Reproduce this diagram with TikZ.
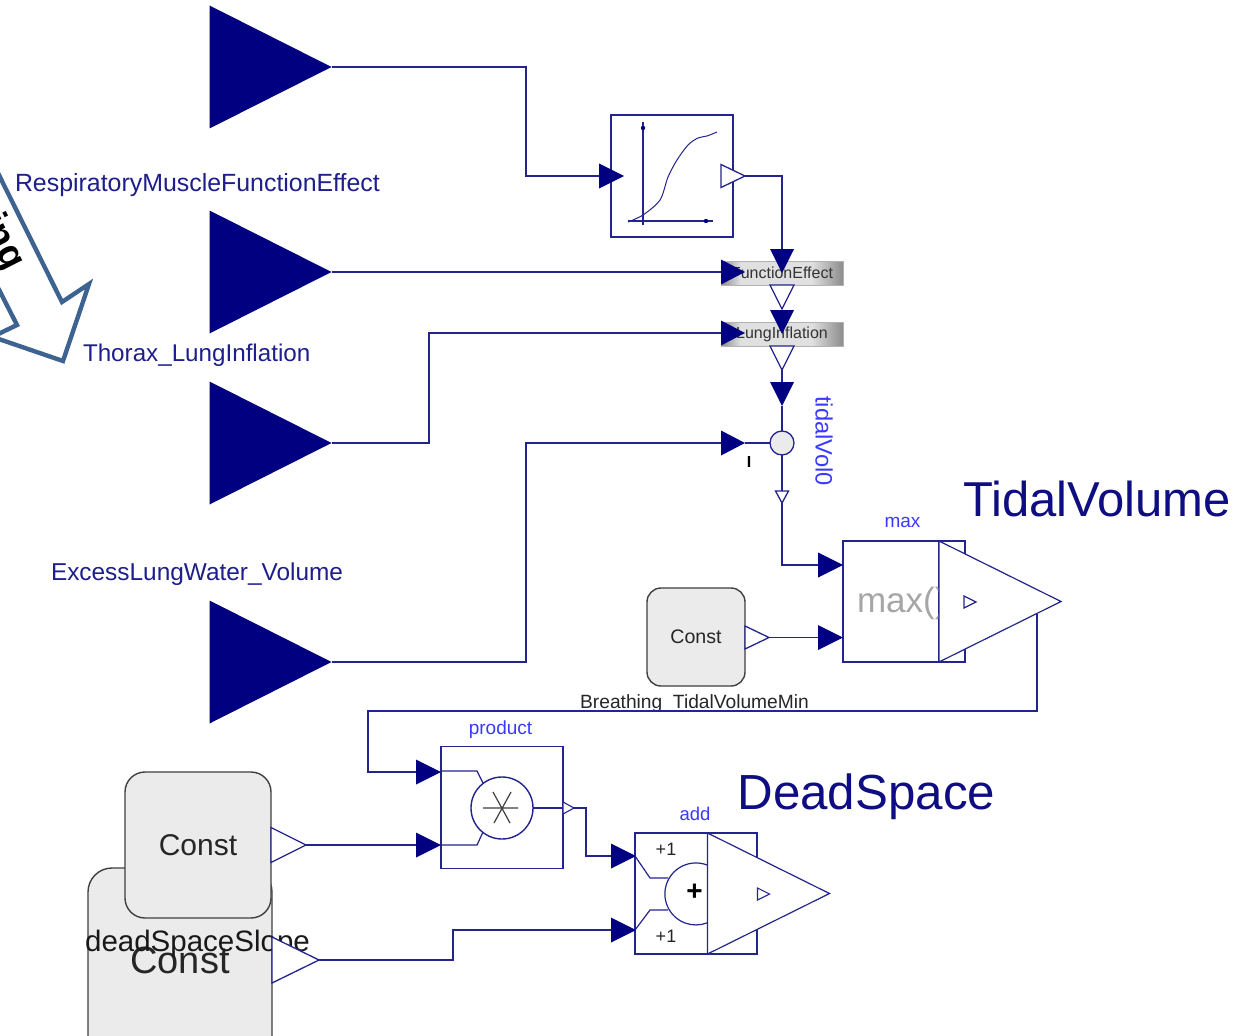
\documentclass[tikz,border=0pt]{standalone}
\usepackage{fontspec}
\setmainfont{Liberation Sans}
\usetikzlibrary{calc}
\definecolor{navy}{HTML}{000080}
\definecolor{wire}{HTML}{24248F}
\definecolor{lab}{HTML}{1E1E8C}
\definecolor{titlecol}{HTML}{0E0E82}
\definecolor{blu}{HTML}{3A3AFF}
\definecolor{boxfill}{HTML}{EBEBEB}
\definecolor{boxline}{HTML}{404040}
\definecolor{callout}{HTML}{3D6491}
\colorlet{bardark}{black!45}
\colorlet{barlight}{black!12}
\pgfdeclarehorizontalshading{barshade}{100bp}{color(0bp)=(bardark);color(25bp)=(bardark);color(33bp)=(barlight);color(62bp)=(barlight);color(75bp)=(bardark);color(100bp)=(bardark)}
\newcommand{\fs}[1]{\fontsize{#1}{#1}\selectfont}
\tikzset{
  port/.style={inner sep=0pt,outer sep=0pt,draw=none},
  portin/.style={fill=navy,draw=none},
  portout/.style={fill=white,draw=wire,line width=1.3pt,line join=miter},
  wireline/.style={draw=wire,line width=1.4pt},
  block/.style={draw=wire,line width=1.4pt,fill=white,inner sep=0pt,outer sep=0pt},
  constbox/.style={draw=boxline,line width=1.4pt,fill=boxfill,inner sep=0pt,outer sep=0pt},
  txt/.style={inner sep=0pt,outer sep=0pt},
  bar/.style={draw=black!30,line width=0.8pt,inner sep=0pt,outer sep=0pt,minimum width=122pt,minimum height=24pt,shading=barshade,font=\fs{16},text=black!80},
}
% right-pointing triangle: style, name, centre, width, height
\newcommand{\rtri}[5]{\node[port,minimum width=#4pt,minimum height=#5pt] (#2) at (#3) {};
  \path[#1] (#2.north west)--(#2.east)--(#2.south west)--cycle;}
% down-pointing triangle
\newcommand{\dtri}[5]{\node[port,minimum width=#4pt,minimum height=#5pt] (#2) at (#3) {};
  \path[#1] (#2.north west)--(#2.north east)--(#2.south)--cycle;}
\begin{document}
\begin{tikzpicture}[x=1pt,y=-1pt]
\clip (0,0) rectangle (1238,1035);
\fill[white] (0,0) rectangle (1238,1035);

% callout arrow cropped at the left edge
\node[txt,rotate=-63,font=\fs{38}\bfseries,anchor=base east] (fragment) at (6,272) {ing};
\path[draw=callout,line width=4.4pt,line join=miter,miter limit=10] (-10,157) -- (62,302) -- (89,284) -- (63,361) -- (-10,336);
\path[draw=callout,line width=4.4pt,line join=miter] (-10,272) -- (17,325) -- (-10,338);

% texts at the left
\node[txt,anchor=base west,text=lab,font=\fs{24.9}] (lbla) at (15,191) {RespiratoryMuscleFunctionEffect};
\node[txt,anchor=base west,text=lab,font=\fs{24.2}] (lblb) at (83,361) {Thorax\_LungInflation};
\node[txt,anchor=base west,text=lab,font=\fs{24.4}] (lblc) at (51,580) {ExcessLungWater\_Volume};

% large inputs
\rtri{portin}{t1}{270.5,67}{122}{123}
\rtri{portin}{t2}{270.5,272}{122}{123}
\rtri{portin}{t3}{270.5,443}{122}{123}
\rtri{portin}{t4}{270.5,662}{122}{123}

% curve block
\node[block,minimum size=122pt] (curve) at (672,176) {};
\draw[wireline,line width=1.3pt] (643,122) -- (643,225);
\draw[wireline,line width=1.3pt] (628,221) -- (713,221);
\fill[navy] (643,128) circle[radius=2.2];
\fill[navy] (706,221) circle[radius=2.2];
\draw[wire,line width=1pt] plot[smooth,tension=0.5] coordinates {(628,222) (643,215) (660,200) (668,177) (677,160) (688,145) (698,138) (707,136) (717,132)};
\rtri{portin}{cin}{611.5,176}{25}{25}
\rtri{portout}{cout}{733,176}{24}{23}

% gradient bars
\node[bar] (fe) at (782,273) {FunctionEffect};
\node[bar] (li) at (782,334) {LungInflation};
\rtri{portin}{fein}{733,272}{24}{25}
\rtri{portin}{liin}{733,333}{24}{25}
\dtri{portin}{fetop}{782,261}{24}{24}
\dtri{portout}{feout}{782,297}{24}{24}
\dtri{portin}{litop}{782,322}{24}{24}
\dtri{portout}{liout}{782,358}{24}{24}
\dtri{portin}{sumtop}{782,394}{24}{24}

% summing point
\node[draw=wire,line width=1.3pt,fill=boxfill,circle,minimum size=24pt,inner sep=0pt,outer sep=0pt] (sum) at (782,443) {};
\rtri{portin}{sumin}{733,443}{24}{25}
\node[txt,font=\fs{16}\bfseries] (minus) at (749,462) {I};
\dtri{portout}{sumout}{782,497}{13}{12}
\node[txt,rotate=-90,text=blu,font=\fs{23.7}] (tv0) at (824,441) {tidalVol0};

% max block
\node[block,minimum width=122pt,minimum height=121pt] (maxbox) at (904,601.5) {};
\draw[wireline] (939,541) -- (939,662);
\node[txt,anchor=base west,text=black!35,font=\fs{35}] (maxtxt) at (857,612) {max()};
\rtri{portout,line width=1.2pt}{maxout}{1000,601.5}{122}{121}
\rtri{portout,line width=1.2pt}{maxmark}{970,602}{12}{12}
\node[txt,text=blu,font=\fs{19}] (maxlbl) at (902.5,522.5) {max};
\rtri{portin}{maxa}{830.5,565}{25}{25}
\rtri{portin}{maxb}{830.5,637.5}{25}{25}
\node[txt,anchor=base west,text=titlecol,font=\fs{49}] (tidal) at (963,516) {TidalVolume};

% minimum volume constant
\node[constbox,rounded corners=14pt,minimum size=98pt,text=black!85,font=\fs{19.6}] (cmin) at (696,637) {Const};
\rtri{portout}{cminout}{757,637.5}{24}{23}
\begin{scope}
\clip (570,685) rectangle (820,710);
\node[txt,anchor=base,text=black!85,font=\fs{19.2}] (cminlbl) at (694.5,708) {Breathing\_TidalVolumeMin};
\end{scope}

% product block
\node[block,minimum size=122pt] (prod) at (502,807.5) {};
\node[block,circle,minimum size=62pt] (mul) at (502,808) {};
\draw[black!75,line width=1.2pt] (483,808) -- (518,808) (493,792) -- (510,823) (511,792) -- (494,823);
\coordinate (proda) at (441,771);
\coordinate (prodb) at (441,845);
\draw[wireline,line width=1.2pt] (proda) -- (477,771) -- (483,783);
\draw[wireline,line width=1.2pt] (prodb) -- (477,845) -- (483,832);
\rtri{portout,line width=1.1pt}{prodout}{568.5,808}{11}{12}
\draw[wireline,line width=1.2pt] (mul.east) -- (prodout.west);
\rtri{portin}{pa}{428.5,772}{25}{25}
\rtri{portin}{pb}{428.5,845}{25}{25}
\node[txt,text=blu,font=\fs{19}] (prodlbl) at (500.5,729.5) {product};

% add block
\node[block,minimum width=122pt,minimum height=121pt] (addbox) at (696,893.5) {};
\rtri{portout,line width=1.2pt}{addout}{768.5,893.5}{122}{121}
\draw[wireline] (707.5,833) -- (707.5,954);
\draw[wireline,line width=1.2pt] (707,865) arc[start angle=-69,end angle=-291,radius=31];
\coordinate (adda) at (635,856);
\coordinate (addb) at (635,930);
\draw[wireline,line width=1.2pt] (adda) -- (650,878) -- (668,878);
\draw[wireline,line width=1.2pt] (addb) -- (650,910) -- (668,910);
\rtri{portout,line width=1.1pt}{addmark}{763.5,894}{12}{12}
\node[txt,text=black!85,font=\fs{18}] (plusa) at (666,849) {+1};
\node[txt,text=black!85,font=\fs{18}] (plusb) at (666,936) {+1};
\node[txt,text=black,font=\fs{28}\bfseries] (plus) at (694.5,892) {+};
\rtri{portin}{aa}{623.5,856}{25}{25}
\rtri{portin}{ab}{623.5,930}{25}{25}
\node[txt,text=blu,font=\fs{18.5}] (addlbl) at (695,814) {add};
\node[txt,anchor=base west,text=titlecol,font=\fs{49.3}] (dead) at (737.5,809) {DeadSpace};

% slope constants
\node[constbox,rounded corners=24pt,minimum width=184pt,minimum height=240pt] (c2) at (180,988) {};
\node[txt,text=black!85,font=\fs{38}] (c2txt) at (180,960) {Const};
\node[txt,anchor=base,text=black!90,font=\fs{29.5}] (c2lbl) at (197.5,951) {deadSpaceSlope};
\rtri{portout}{c2out}{295.5,960}{47}{46}
\node[constbox,rounded corners=20pt,minimum size=146pt,text=black!85,font=\fs{30}] (c1) at (198,845) {Const};
\rtri{portout}{c1out}{288.5,845}{35}{35}

% connectors
\draw[wireline] (t1.east) -- (526,67) |- (cin.west);
\draw[wireline] (t2.east) -- (fein.west);
\draw[wireline] (t3.east) -- (429,443) |- (liin.west);
\draw[wireline] (t4.east) -- (526,662) |- (sumin.west);
\draw[wireline] (cout.east) -| (fetop.north);
\draw[wireline] (liout.south) -- (sumtop.north);
\draw[wireline] (sumtop.south) -- (sum.north);
\draw[wireline] (sumin.east) -- (sum.west);
\draw[wireline] (sum.south) -- (sumout.north);
\draw[wireline] (sumout.south) |- (maxa.west);
\draw[wireline] (cminout.east) -- (maxb.west);
\coordinate (maxtap) at (1037,614);
\draw[wireline] (maxtap) -- (1037,711) -- (368,711) |- (pa.west);
\draw[wireline] (c1out.east) -- (pb.west);
\draw[wireline] (prodout.east) -- (586,808) |- (aa.west);
\draw[wireline] (c2out.east) -- (453,960) |- (ab.west);
\end{tikzpicture}
\end{document}
